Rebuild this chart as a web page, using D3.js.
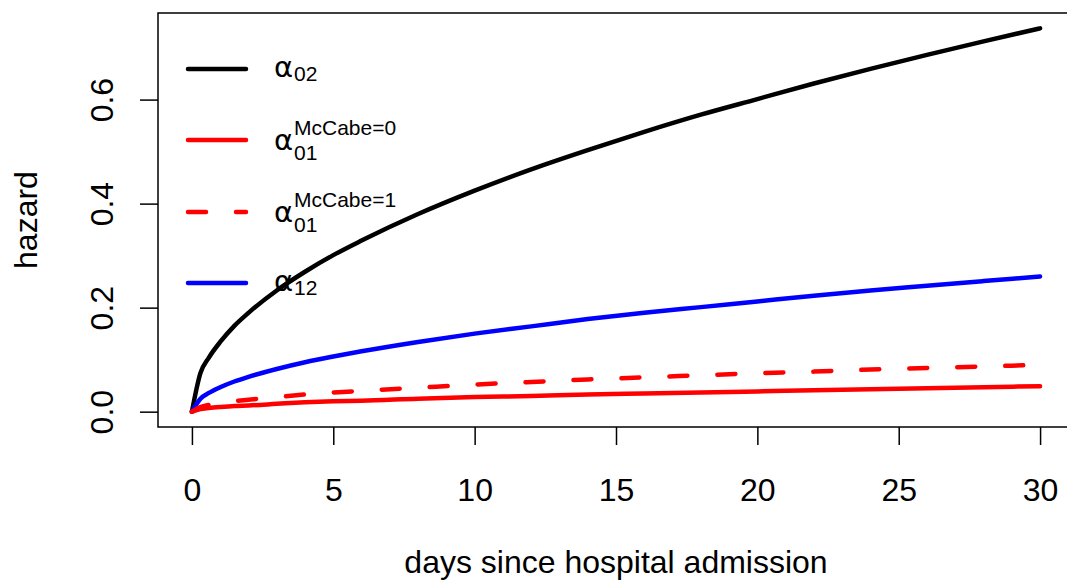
<!DOCTYPE html>
<html>
<head>
<meta charset="utf-8">
<script src="https://cdnjs.cloudflare.com/ajax/libs/d3/7.8.5/d3.min.js"></script>
<style>
  body { margin: 0; background: #fff; }
  text { font-family: "Liberation Sans", Arial, sans-serif; fill: #000; }
</style>
</head>
<body>
<div id="vis"></div>
<script>
// values
var days = [0, 0.3, 0.6, 1, 1.5, 2, 3, 4, 5, 6, 8, 10, 12, 14, 16, 18, 20, 22, 24, 26, 28, 30];
var alpha02 = [0, 0.074, 0.104, 0.134, 0.165, 0.19, 0.233, 0.269, 0.301, 0.329, 0.380, 0.425, 0.466, 0.503, 0.538, 0.571, 0.601, 0.631, 0.659, 0.686, 0.712, 0.737];
var alpha12 = [0, 0.025, 0.036, 0.047, 0.058, 0.067, 0.082, 0.095, 0.106, 0.116, 0.134, 0.150, 0.164, 0.178, 0.190, 0.201, 0.212, 0.223, 0.233, 0.242, 0.251, 0.260];
var alpha01mc0 = [0, 0.005, 0.007, 0.009, 0.011, 0.012, 0.015, 0.018, 0.020, 0.021, 0.025, 0.028, 0.030, 0.033, 0.035, 0.037, 0.039, 0.041, 0.043, 0.045, 0.047, 0.049];
var alpha01mc1 = [0, 0.009, 0.013, 0.016, 0.020, 0.023, 0.028, 0.033, 0.037, 0.040, 0.046, 0.052, 0.057, 0.062, 0.066, 0.070, 0.074, 0.077, 0.081, 0.084, 0.087, 0.090];

var xTicks = [0, 5, 10, 15, 20, 25, 30];
var yTicks = [0, 0.2, 0.4, 0.6];
var yTickLabels = ["0.0", "0.2", "0.4", "0.6"];

var legendSub = ["02", "01", "01", "12"];
var legendSup = ["", "McCabe=0", "McCabe=1", ""];

var width = 1067;
var height = 580;
var fontSize = "32px";

var svg = d3.select("#vis")
    .append("svg")
    .attr("width", width)
    .attr("height", height);

// R style: data range plus 4% on each side
var xmax = d3.max(days);
var ymax = d3.max(alpha02);
var xscale = d3.scaleLinear()
    .domain([-0.04 * xmax, 1.04 * xmax])
    .range([158, 1074]);
var yscale = d3.scaleLinear()
    .domain([-0.04 * ymax, 1.04 * ymax])
    .range([427, 13]);

svg.append("rect")
    .attr("x", xscale.range()[0])
    .attr("y", yscale.range()[1])
    .attr("width", xscale.range()[1] - xscale.range()[0])
    .attr("height", yscale.range()[0] - yscale.range()[1])
    .attr("fill", "none")
    .attr("stroke", "#000")
    .attr("stroke-width", 1.5);

var xaxis = d3.axisBottom(xscale)
    .tickValues(xTicks)
    .tickSize(18)
    .tickPadding(33)
    .tickFormat(d3.format("d"));

var gx = svg.append("g")
    .attr("transform", "translate(0," + yscale.range()[0] + ")")
    .call(xaxis);

var yaxis = d3.axisLeft(yscale)
    .tickValues(yTicks)
    .tickSize(18)
    .tickFormat(function (d, i) { return yTickLabels[i]; });

var gy = svg.append("g")
    .attr("transform", "translate(" + xscale.range()[0] + ",0)")
    .call(yaxis);

[gx, gy].forEach(function (g) {
    g.select(".domain").remove();
    g.selectAll(".tick line").attr("stroke", "#000").attr("stroke-width", 1.5);
    g.selectAll(".tick text")
        .style("font-family", "'Liberation Sans', Arial, sans-serif")
        .style("font-size", fontSize)
        .attr("fill", "#000");
});

gx.selectAll(".tick text").attr("dy", "0.71em");

gy.selectAll(".tick text")
    .attr("x", 0)
    .attr("y", 0)
    .attr("text-anchor", "middle")
    .attr("transform", "translate(-57,0) rotate(-90)")
    .attr("dy", "0.36em");

svg.append("text")
    .attr("x", (xscale(0) + xscale(30)) / 2)
    .attr("y", 573)
    .attr("text-anchor", "middle")
    .style("font-size", fontSize)
    .text("days since hospital admission");

svg.append("text")
    .attr("transform", "translate(37," + (yscale.range()[0] + yscale.range()[1]) / 2 + ") rotate(-90)")
    .attr("text-anchor", "middle")
    .style("font-size", fontSize)
    .text("hazard");

var series = [
    { values: alpha02, color: "#000000", dash: null },
    { values: alpha12, color: "#0000ff", dash: null },
    { values: alpha01mc0, color: "#ff0000", dash: null },
    { values: alpha01mc1, color: "#ff0000", dash: "18,30" }
];

var line = d3.line()
    .x(function (d, i) { return xscale(days[i]); })
    .y(function (d) { return yscale(d); })
    .curve(d3.curveMonotoneX);

svg.selectAll(".curve")
    .data(series)
    .enter()
    .append("path")
    .attr("class", "curve")
    .attr("d", function (d) { return line(d.values); })
    .attr("fill", "none")
    .attr("stroke", function (d) { return d.color; })
    .attr("stroke-width", 4.5)
    .attr("stroke-linecap", "round")
    .attr("stroke-linejoin", "round")
    .attr("stroke-dasharray", function (d) { return d.dash; });

// legend, no box
var legendItems = [
    { color: "#000000", dash: null, y: 69 },
    { color: "#ff0000", dash: null, y: 140 },
    { color: "#ff0000", dash: "18,30", y: 212 },
    { color: "#0000ff", dash: null, y: 283 }
];

var legend = svg.selectAll(".legend")
    .data(legendItems)
    .enter()
    .append("g")
    .attr("class", "legend");

legend.append("line")
    .attr("x1", 188)
    .attr("x2", 246)
    .attr("y1", function (d) { return d.y; })
    .attr("y2", function (d) { return d.y; })
    .attr("stroke", function (d) { return d.color; })
    .attr("stroke-width", 4.5)
    .attr("stroke-linecap", "round")
    .attr("stroke-dasharray", function (d) { return d.dash; });

legend.each(function (d, i) {
    var g = d3.select(this);
    var hasSup = legendSup[i] !== "";
    var base = d.y + (hasSup ? 10 : 8);
    g.append("text")
        .attr("x", 274)
        .attr("y", base)
        .style("font-family", "'DejaVu Sans', sans-serif")
        .style("font-size", "29px")
        .text("\u03b1");
    g.append("text")
        .attr("x", 294)
        .attr("y", base + (hasSup ? 10 : 4))
        .style("font-size", "21px")
        .text(legendSub[i]);
    if (hasSup) {
        g.append("text")
            .attr("x", 294)
            .attr("y", base - 15)
            .style("font-size", "21px")
            .text(legendSup[i]);
    }
});
</script>
</body>
</html>
